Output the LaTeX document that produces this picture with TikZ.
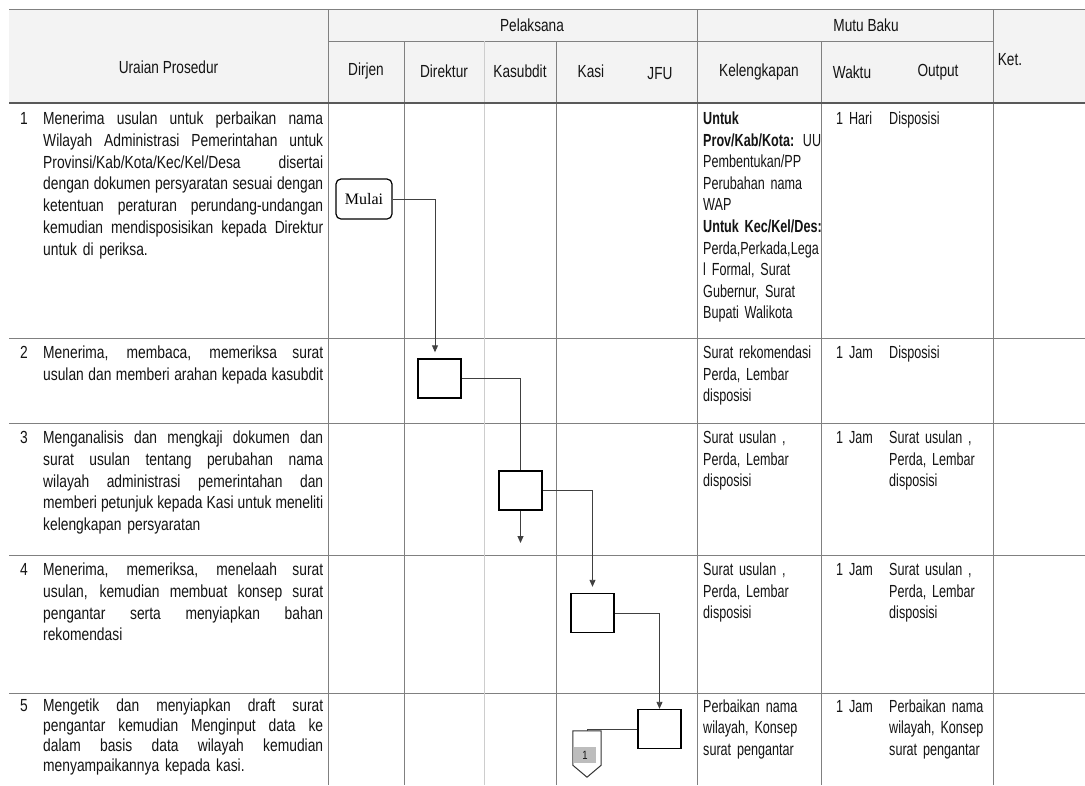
\documentclass[tikz,border=0pt]{standalone}
\usepackage{fontspec}
\setmainfont{Liberation Sans}[FakeStretch=0.79]
\newfontfamily\cellfont{Liberation Sans}[FakeStretch=0.72]
\newfontfamily\hdrfont{Liberation Sans}[FakeStretch=0.78]
\newfontfamily\startfont{Liberation Serif}
\usetikzlibrary{arrows.meta,calc}
\definecolor{gridc}{HTML}{808080}
\definecolor{gridl}{HTML}{CDCDCD}
\definecolor{hdrfill}{HTML}{F3F3F3}
\definecolor{txtc}{HTML}{141414}
\definecolor{connc}{HTML}{BDBDBD}
\newcommand\jl[1]{\leavevmode\hbox to 280pt{\spaceskip=\fontdimen2\font plus 1fil minus 0.6\fontdimen2\font\relax #1}}
\newcommand\leftsz{\fontsize{17.5}{21.8}\selectfont}
\newcommand\cellsz{\cellfont\fontsize{17.5}{21.6}\selectfont}
\newcommand\hdrsz{\hdrfont\fontsize{17.5}{20}\selectfont}
\begin{document}
\begin{tikzpicture}[x=1pt,y=-1pt,
  gridline/.style={draw=gridc,line width=1pt},
  gridlight/.style={draw=gridl,line width=1pt},
  hdrline/.style={draw=black!65,line width=1.2pt},
  hdr/.style={inner sep=0,text=txtc,font=\hdrsz},
  para/.style={anchor=base west,inner sep=0,text width=280pt,align=left,text=txtc,font=\leftsz},
  num/.style={anchor=base west,inner sep=0,text=txtc,font=\leftsz},
  cell/.style={anchor=base west,inner sep=0,text width=125pt,align=left,text=txtc,font=\cellsz},
  procbox/.style={draw=black,line width=1.4pt,minimum width=43pt,minimum height=39pt,inner sep=0},
  startbox/.style={draw=black,line width=1.2pt,rounded corners=5pt,minimum width=56pt,minimum height=40pt,inner sep=0,font=\startfont\fontsize{16}{18}\selectfont},
  flowline/.style={draw=black!75,line width=0.9pt},
  flowarrow/.style={flowline,-{Triangle[length=7pt,width=6pt]}},
  pagecon/.style={minimum width=28pt,minimum height=46pt,inner sep=0}
]
\useasboundingbox (0,0) rectangle (1085,785);
\clip (0,0) rectangle (1085,785);
\fill[white] (0,0) rectangle (1085,785);
\fill[hdrfill] (9,9) rectangle (1085,103);

% grid
\draw[gridline] (9,9) -- (1085,9);
\draw[gridline] (328,41) -- (993,41);
\foreach \yy in {338,423,555,693} \draw[gridline] (9,\yy) -- (1085,\yy);
\draw[gridline] (328,9) -- (328,785);
\draw[gridline] (404,41) -- (404,785);
\draw[gridlight] (484,41) -- (484,785);
\draw[gridline] (556,41) -- (556,785);
\draw[gridline] (697,9) -- (697,785);
\draw[gridline] (821,41) -- (821,785);
\draw[gridline] (993,9) -- (993,785);
\draw[hdrline] (9,103) -- (1085,103);

% header
\node[hdr] (hUraian) at (168.5,67) {Uraian Prosedur};
\node[hdr] (hPel) at (532,25) {Pelaksana};
\node[hdr] (hMutu) at (866,25) {Mutu Baku};
\node[hdr] (hKet) at (1010,60) {Ket.};
\node[hdr] (hDirjen) at (366,71) {Dirjen};
\node[hdr] (hDirektur) at (444,71) {Direktur};
\node[hdr] (hKasubdit) at (520,71) {Kasubdit};
\node[hdr] (hKasi) at (591,71) {Kasi};
\node[hdr] (hJFU) at (660,74) {JFU};
\node[hdr] (hKel) at (759,72) {Kelengkapan};
\node[hdr] (hWaktu) at (852,72) {Waktu};
\node[hdr] (hOutput) at (938,72) {Output};

% row 1
\node[num] (n1) at (20,124.5) {1};
\node[para] (t1) at (43,124.5) {\jl{Menerima usulan untuk perbaikan nama}\\
\jl{Wilayah Administrasi Pemerintahan untuk}\\
\jl{Provinsi/Kab/Kota/Kec/Kel/Desa disertai}\\
\jl{dengan dokumen persyaratan sesuai dengan}\\
\jl{ketentuan peraturan perundang-undangan}\\
\jl{kemudian mendisposisikan kepada Direktur}\\
untuk di periksa.};
\node[cell] (k1) at (703,124.5) {\textbf{Untuk}\\
\textbf{Prov/Kab/Kota:} UU\\
Pembentukan/PP\\
Perubahan nama\\
WAP\\
\textbf{Untuk Kec/Kel/Des:}\\
Perda,Perkada,Lega\\
l Formal, Surat\\
Gubernur, Surat\\
Bupati Walikota};
\node[cell,text width=50pt] (w1) at (836,124.5) {1 Hari};
\node[cell,text width=100pt] (o1) at (889,124.5) {Disposisi};

% row 2
\node[num] (n2) at (20,358.5) {2};
\node[para] (t2) at (43,358.5) {\jl{Menerima, membaca, memeriksa surat}\\
\jl{usulan dan memberi arahan kepada kasubdit}};
\node[cell] (k2) at (703,358.5) {Surat rekomendasi\\ Perda, Lembar\\ disposisi};
\node[cell,text width=50pt] (w2) at (836,358.5) {1 Jam};
\node[cell,text width=100pt] (o2) at (889,358.5) {Disposisi};

% row 3
\node[num] (n3) at (20,443.5) {3};
\node[para] (t3) at (43,443.5) {\jl{Menganalisis dan mengkaji dokumen dan}\\
\jl{surat usulan tentang perubahan nama}\\
\jl{wilayah administrasi pemerintahan dan}\\
\jl{memberi petunjuk kepada Kasi untuk meneliti}\\
kelengkapan persyaratan};
\node[cell] (k3) at (703,443.5) {Surat usulan ,\\ Perda, Lembar\\ disposisi};
\node[cell,text width=50pt] (w3) at (836,443.5) {1 Jam};
\node[cell,text width=100pt] (o3) at (889,443.5) {Surat usulan ,\\ Perda, Lembar\\ disposisi};

% row 4
\node[num] (n4) at (20,575.5) {4};
\node[para] (t4) at (43,575.5) {\jl{Menerima, memeriksa, menelaah surat}\\
\jl{usulan, kemudian membuat konsep surat}\\
\jl{pengantar serta menyiapkan bahan}\\
rekomendasi};
\node[cell] (k4) at (703,575.5) {Surat usulan ,\\ Perda, Lembar\\ disposisi};
\node[cell,text width=50pt] (w4) at (836,575.5) {1 Jam};
\node[cell,text width=100pt] (o4) at (889,575.5) {Surat usulan ,\\ Perda, Lembar\\ disposisi};

% row 5
\node[num] (n5) at (20,711) {5};
\node[para,font=\fontsize{17.5}{20.3}\selectfont] (t5) at (43,711) {\jl{Mengetik dan menyiapkan draft surat}\\
\jl{pengantar kemudian Menginput data ke}\\
\jl{dalam basis data wilayah kemudian}\\
menyampaikannya kepada kasi.};
\node[cell] (k5) at (703,712) {Perbaikan nama\\ wilayah, Konsep\\ surat pengantar};
\node[cell,text width=50pt] (w5) at (836,712) {1 Jam};
\node[cell,text width=100pt] (o5) at (889,712) {Perbaikan nama\\ wilayah, Konsep\\ surat pengantar};

% flowchart
\node[startbox] (mulai) at (364,199) {Mulai};
\node[procbox] (b2) at (439.5,378.5) {};
\node[procbox] (b3) at (520.5,490.5) {};
\node[procbox] (b4) at (592.5,613) {};
\node[procbox] (b5) at (659.5,729) {};
\node[pagecon] (c1) at (587,754) {};
\draw[draw=black!80,line width=1pt] (c1.north west) -- (c1.north east) -- ($(c1.south east)+(0,-12)$) -- (c1.south) -- ($(c1.south west)+(0,-12)$) -- cycle;
\node[fill=connc,minimum width=22pt,minimum height=16pt,inner sep=0,text=txtc,font=\fontsize{12}{14}\selectfont] (c1lab) at (585,755) {1};
\coordinate (e3) at (521,543);

\draw[flowarrow] (mulai.east) -| ($(b2.north)+(-4.5,-6)$);
\draw[flowline] (b2.east) -| (b3.north);
\draw[flowarrow] (b3.south) -- (b3.south |- e3);
\draw[flowarrow] (b3.east) -| ($(b4.north)+(0,-6)$);
\draw[flowarrow] (b4.east) -| (b5.north);
\draw[flowline] (b5.west) -| (c1.north);
\end{tikzpicture}
\end{document}
